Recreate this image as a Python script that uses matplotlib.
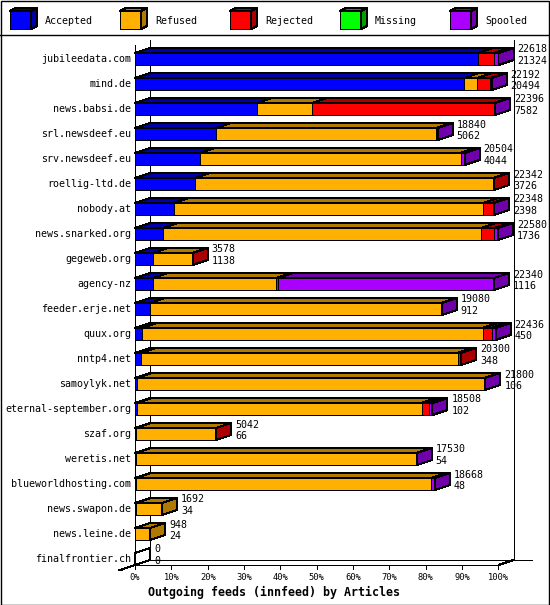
import matplotlib
matplotlib.use("Agg")
import matplotlib.pyplot as plt
from matplotlib.patches import Polygon, Rectangle
import numpy as np

hosts = ["jubileedata.com", "mind.de", "news.babsi.de", "srl.newsdeef.eu",
         "srv.newsdeef.eu", "roellig-ltd.de", "nobody.at", "news.snarked.org",
         "gegeweb.org", "agency-nz", "feeder.erje.net", "quux.org", "nntp4.net",
         "samoylyk.net", "eternal-september.org", "szaf.org", "weretis.net",
         "blueworldhosting.com", "news.swapon.de", "news.leine.de",
         "finalfrontier.ch"]
offered = [22618, 22192, 22396, 18840, 20504, 22342, 22348, 22580, 3578, 22340,
           19080, 22436, 20300, 21800, 18508, 5042, 17530, 18668, 1692, 948, 0]
accepted = [21324, 20494, 7582, 5062, 4044, 3726, 2398, 1736, 1138, 1116,
            912, 450, 348, 106, 102, 66, 54, 48, 34, 24, 0]
refused = [0, 790, 3455, 13648, 16210, 18536, 19230, 19814, 2390, 7650,
           18108, 21176, 19722, 21594, 17726, 4964, 17416, 18350, 1658, 924, 0]
rejected = [1020, 820, 11300, 0, 0, 80, 620, 780, 50, 150,
            0, 560, 230, 0, 470, 12, 0, 0, 0, 0, 0]
missing = [0] * 21
spooled = [274, 88, 59, 130, 250, 0, 100, 250, 0, 13424,
           60, 250, 0, 100, 210, 0, 60, 270, 0, 0, 0]

series = ["Accepted", "Refused", "Rejected", "Missing", "Spooled"]
front_col = ["#0000ff", "#ffb000", "#ff0000", "#00ff00", "#aa00ff"]
dark_col = ["#0000aa", "#b07a00", "#aa0000", "#00a000", "#7000aa"]
ticks_pct = [0, 10, 20, 30, 40, 50, 60, 70, 80, 90, 100]
title = "Outgoing feeds (innfeed) by Articles"

W, H = 550, 605
X0, PXPCT = 135, 3.635     # pixel of 0%, pixels per percent
Y0, ROW = 59, 25           # pixel of first row centre, pixels per row
LW = 0.72
MONO = "DejaVu Sans Mono"

fig = plt.figure(figsize=(W / 100, H / 100), dpi=100)
fig.patch.set_facecolor("white")
ax = fig.add_axes([0, 0, 1, 1])
ax.set_xlim(-X0 / PXPCT, (W - X0) / PXPCT)
ax.set_ylim((H - Y0) / ROW, -Y0 / ROW)
ax.axis("off")

dx = 15 / PXPCT      # depth in x (percent units)
dy = 5 / ROW         # depth in y (row units, upwards)
hh = 6 / ROW         # half height of bar front


def poly(pts, fc, z=3):
    ax.add_patch(Polygon(pts, closed=True, facecolor=fc, edgecolor="black",
                         lw=LW, antialiased=False, zorder=z))


def line(xs, ys, z=2):
    ax.plot(xs, ys, color="black", lw=LW, antialiased=False, zorder=z,
            solid_capstyle="butt")


n = len(hosts)
last = n - 1
maxo = max(offered)

# walls and floor
top_front, top_back = -0.56, -0.76
floor_front, floor_back = last + hh, last + hh - dy
line([0, 0], [top_front, floor_front])
line([dx, dx], [top_back, floor_back])
line([100 + dx, 100 + dx], [top_back, floor_back])
line([0, 100], [floor_front, floor_front])
line([dx, (532 - X0) / PXPCT], [floor_back, floor_back])
line([-16 / PXPCT, dx], [floor_front + 5.5 / ROW, floor_back])
line([100, 100 + dx], [floor_front, floor_back])
for t in ticks_pct:
    line([t, t], [floor_front, floor_front + 4 / ROW])
    ax.text(t, floor_front + 13 / ROW, f"{t}%", ha="center", va="center",
            fontsize=6.3, family=MONO)

data = np.array([accepted, refused, rejected, missing, spooled], dtype=float)

for i in range(n):
    c = i
    ax.text(-4 / PXPCT, c, hosts[i], ha="right", va="center",
            fontsize=7.2, family=MONO, zorder=5)
    cum = 0.0
    last_k = None
    end = 0.0
    segs = []
    for k in range(len(series)):
        w = data[k, i] / maxo * 100
        if w <= 0:
            continue
        segs.append((k, cum, cum + w))
        cum += w
    for k, a, b in segs:
        poly([(a, c - hh), (b, c - hh), (b, c + hh), (a, c + hh)], front_col[k])
        poly([(a, c - hh), (a + dx, c - hh - dy), (b + dx, c - hh - dy),
              (b, c - hh)], dark_col[k])
        last_k, end = k, b
    if last_k is None:
        # empty bar: outline only
        poly([(0, c - hh), (dx, c - hh - dy), (dx, c + hh - dy), (0, c + hh)],
             "none", z=3)
    else:
        poly([(end, c - hh), (end + dx, c - hh - dy), (end + dx, c + hh - dy),
              (end, c + hh)], dark_col[last_k])
    tx = end + dx + 4 / PXPCT
    ax.text(tx, c - 9.5 / ROW, str(offered[i]), ha="left", va="center",
            fontsize=7.2, family=MONO, zorder=5)
    ax.text(tx, c + 2 / ROW, str(accepted[i]), ha="left", va="center",
            fontsize=7.2, family=MONO, zorder=5)

fig.text(274 / W, 1 - 592 / H, title, ha="center", va="center",
         fontsize=8.4, family=MONO, fontweight="bold")

# legend strip
lg = fig.add_axes([0, 1 - 35 / H, 1, 35 / H])
lg.set_xlim(0, W)
lg.set_ylim(35, 0)
lg.axis("off")
for k, name in enumerate(series):
    x = 10 + 110 * k
    y1, y2 = 11, 29
    lg.add_patch(Polygon([(x, y1), (x + 21, y1), (x + 21, y2), (x, y2)],
                         facecolor=front_col[k], edgecolor="black", lw=LW,
                         antialiased=False))
    lg.add_patch(Polygon([(x, y1), (x + 6, y1 - 3), (x + 27, y1 - 3),
                          (x + 21, y1)], facecolor=dark_col[k],
                         edgecolor="black", lw=LW, antialiased=False))
    lg.add_patch(Polygon([(x + 21, y1), (x + 27, y1 - 3), (x + 27, y2 - 3),
                          (x + 21, y2)], facecolor=dark_col[k],
                         edgecolor="black", lw=LW, antialiased=False))
    lg.text(x + 35, 20.5, name, ha="left", va="center", fontsize=7.2,
            family=MONO)

# frame and legend separator
fig.add_artist(Rectangle((0.5 / W, 0.5 / H), (W - 1.5) / W, (H - 1.5) / H,
                         transform=fig.transFigure, fill=False, lw=LW * 1.4,
                         edgecolor="black"))
fig.add_artist(plt.Line2D([0, 1], [1 - 34.5 / H, 1 - 34.5 / H],
                          transform=fig.transFigure, color="black", lw=LW * 1.4))

fig.savefig("out.png", dpi=100)
